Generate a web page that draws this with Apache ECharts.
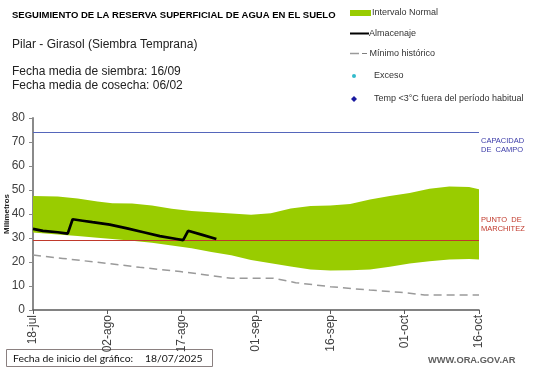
<!DOCTYPE html>
<html><head><meta charset="utf-8">
<script src="https://cdn.jsdelivr.net/npm/echarts@6/dist/echarts.min.js"></script>
<style>html,body{margin:0;padding:0;background:#fff}#c{width:541px;height:368px}</style>
</head><body><div id="c"></div>
<script>
const xTickLabels = ['18-jul','02-ago','17-ago','01-sep','16-sep','01-oct','16-oct'];
const bandDays  = [0, 5, 9, 13, 16, 20, 24, 28, 32, 36, 40, 44, 48, 52, 56, 60, 64, 68, 72, 76, 80, 84, 88, 90];
const bandLower = [32.3, 31.5, 30.8, 30.1, 29.6, 28.9, 28.0, 26.9, 25.7, 24.2, 22.8, 20.8, 19.5, 18.1, 16.9, 16.5, 16.6, 16.9, 18.0, 19.4, 20.3, 21.0, 21.2, 21.0];
const bandUpper = [47.5, 47.3, 46.5, 45.2, 44.5, 44.4, 43.5, 42.2, 41.2, 40.7, 40.2, 39.7, 40.3, 42.3, 43.3, 43.5, 44.2, 46.0, 47.5, 48.8, 50.5, 51.5, 51.2, 50.3];
const storeDays   = [0, 2, 5, 7, 8, 10, 12, 15.5, 19, 22.3, 25.6, 29, 30.3, 31.3, 34, 37];
const storeValues = [33.8, 33.0, 32.4, 31.8, 37.8, 37.2, 36.6, 35.6, 34.0, 32.4, 30.8, 29.6, 29.1, 33.0, 31.4, 29.6];
const minDays   = [0, 6, 15, 21.5, 29.7, 35, 40, 46, 48.5, 53, 60, 68, 74, 79, 90];
const minValues = [22.9, 21.5, 19.4, 17.8, 16.0, 14.6, 13.2, 13.2, 13.2, 11.4, 9.7, 8.3, 7.4, 6.3, 6.3];
const fieldCapacity = 74;
const wiltingPoint = 29;

const pairs = (xs, ys) => xs.map((x, i) => [x, ys[i]]);
const bandData = bandDays.map((d, i) => [d, bandLower[i], bandUpper[i]]);

const F = '"Liberation Sans", Arial, sans-serif';
const chart = echarts.init(document.getElementById('c'), null, {renderer: 'canvas'});
chart.setOption({
  animation: false,
  backgroundColor: '#fff',
  grid: {left: 33, right: 62, top: 118, bottom: 58, containLabel: false, outerBoundsMode: 'none'},
  xAxis: {
    type: 'value', min: 0, max: 90, interval: 15,
    splitLine: {show: false},
    axisLine: {lineStyle: {color: '#595959', width: 1.5}},
    axisTick: {length: 4, lineStyle: {color: '#595959'}},
    axisLabel: {rotate: 90, margin: 5, fontSize: 12, fontFamily: F, color: '#404040',
      formatter: v => xTickLabels[Math.round(v / 15)] || ''}
  },
  yAxis: {
    type: 'value', min: 0, max: 80, interval: 10,
    splitLine: {show: false},
    name: 'Milímetros', nameLocation: 'middle', nameGap: 22, nameMoveOverlap: false,
    nameTextStyle: {fontSize: 8, fontWeight: 'bold', fontFamily: F, color: '#222'},
    axisLine: {show: true, lineStyle: {color: '#8a8a8a', width: 2}},
    axisTick: {show: true, length: 4, lineStyle: {color: '#8a8a8a'}},
    axisLabel: {margin: 8, fontSize: 12, fontFamily: F, color: '#404040'}
  },
  series: [
    {type: 'custom', name: 'Intervalo Normal', data: bandData, silent: true, z: 1,
     renderItem: (params, api) => {
       if (params.dataIndex !== 0) return null;
       const top = bandData.map(r => api.coord([r[0], r[2]]));
       const bot = bandData.slice().reverse().map(r => api.coord([r[0], r[1]]));
       return {type: 'polygon', shape: {points: top.concat(bot)}, style: {fill: '#99cc00'}};
     }},
    {type: 'line', name: 'Mínimo histórico', data: pairs(minDays, minValues), z: 3,
     symbol: 'none', lineStyle: {color: '#9a9a9a', width: 1.5, type: [8, 5]}, silent: true},
    {type: 'line', name: 'Almacenaje', data: pairs(storeDays, storeValues),
     symbol: 'none', lineStyle: {color: '#000', width: 2.7}, silent: true, z: 5,
     markLine: {silent: true, symbol: 'none', label: {show: false},
       data: [
         {yAxis: fieldCapacity, lineStyle: {color: '#5566bb', width: 1, type: 'solid'}},
         {yAxis: wiltingPoint, lineStyle: {color: '#c0392b', width: 1, type: 'solid'}}
       ]}}
  ],
  graphic: [
    {type: 'text', x: 12, y: 15, style: {text: 'SEGUIMIENTO DE LA RESERVA SUPERFICIAL DE AGUA EN EL SUELO', font: 'bold 9.5px ' + F, fill: '#000', verticalAlign: 'middle'}},
    {type: 'text', x: 12, y: 45, style: {text: 'Pilar - Girasol (Siembra Temprana)', font: '12px ' + F, fill: '#222', verticalAlign: 'middle'}},
    {type: 'text', x: 12, y: 72, style: {text: 'Fecha media de siembra: 16/09', font: '12px ' + F, fill: '#222', verticalAlign: 'middle'}},
    {type: 'text', x: 12, y: 86, style: {text: 'Fecha media de cosecha: 06/02', font: '12px ' + F, fill: '#222', verticalAlign: 'middle'}},
    {type: 'rect', shape: {x: 350, y: 10, width: 21, height: 6}, style: {fill: '#99cc00'}},
    {type: 'text', x: 372, y: 13, style: {text: 'Intervalo Normal', font: '9px ' + F, fill: '#333', verticalAlign: 'middle'}},
    {type: 'line', shape: {x1: 350, y1: 33.5, x2: 369, y2: 33.5}, style: {stroke: '#000', lineWidth: 2}},
    {type: 'text', x: 369, y: 33.5, style: {text: 'Almacenaje', font: '9px ' + F, fill: '#333', verticalAlign: 'middle'}},
    {type: 'line', shape: {x1: 350, y1: 53.5, x2: 359, y2: 53.5}, style: {stroke: '#9a9a9a', lineWidth: 1.5}},
    {type: 'text', x: 362, y: 53.5, style: {text: '– Mínimo histórico', font: '9px ' + F, fill: '#333', verticalAlign: 'middle'}},
    {type: 'circle', shape: {cx: 354, cy: 76, r: 2}, style: {fill: '#33bbcc'}},
    {type: 'text', x: 374, y: 76, style: {text: 'Exceso', font: '9px ' + F, fill: '#333', verticalAlign: 'middle'}},
    {type: 'polygon', shape: {points: [[354, 96], [357, 99], [354, 102], [351, 99]]}, style: {fill: '#1a1aa0'}},
    {type: 'text', x: 374, y: 99, style: {text: 'Temp <3°C fuera del período habitual', font: '9px ' + F, fill: '#333', verticalAlign: 'middle'}},
    {type: 'text', x: 481, y: 145, style: {text: 'CAPACIDAD\nDE  CAMPO', font: '7.5px ' + F, fill: '#3a3aa8', verticalAlign: 'middle', lineHeight: 9}},
    {type: 'text', x: 481, y: 224, style: {text: 'PUNTO  DE\nMARCHITEZ', font: '7.5px ' + F, fill: '#c0392b', verticalAlign: 'middle', lineHeight: 9}},
    {type: 'rect', shape: {x: 6.5, y: 349.5, width: 206, height: 17}, style: {fill: '#fff', stroke: '#8a8080', lineWidth: 1}},
    {type: 'text', x: 13, y: 358.5, style: {text: 'Fecha de inicio del gráfico:', font: '10.4px Lato, ' + F, fill: '#111', verticalAlign: 'middle'}},
    {type: 'text', x: 145, y: 358.5, style: {text: '18/07/2025', font: '10.4px Lato, ' + F, fill: '#111', verticalAlign: 'middle'}},
    {type: 'text', x: 428, y: 360, style: {text: 'WWW.ORA.GOV.AR', font: 'bold 9.3px ' + F, fill: '#606060', verticalAlign: 'middle'}}
  ]
});
</script>
</body></html>
